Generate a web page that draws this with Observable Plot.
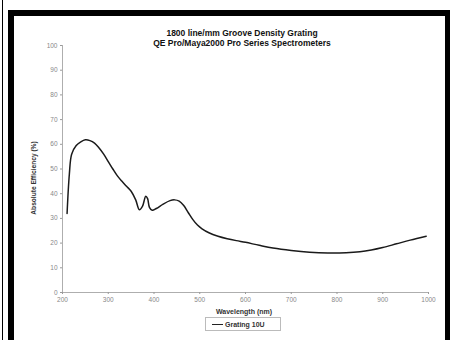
<!DOCTYPE html>
<html><head><meta charset="utf-8">
<script src="https://cdn.jsdelivr.net/npm/d3@7"></script>
<script src="https://cdn.jsdelivr.net/npm/@observablehq/plot@0.6"></script>
<style>
body{margin:0;background:#fff;}
#wrap{position:relative;width:457px;height:340px;overflow:hidden;font-family:"Liberation Sans",Arial,sans-serif;background:#fff;}
#wrap svg{position:absolute;left:0;top:0;}
.blk{position:absolute;background:#000;}
.t{position:absolute;transform:translateX(-50%);white-space:nowrap;font-weight:bold;color:#111;}
#ytitle{position:absolute;left:33px;top:178px;transform:translate(-50%,-50%) rotate(-90deg);white-space:nowrap;font-weight:bold;font-size:6.6px;color:#333;}
#legend{position:absolute;left:205px;top:317px;width:76px;height:14px;border:1px solid #bbb;box-sizing:border-box;font-size:7px;font-weight:bold;color:#333;display:flex;align-items:center;}
#legend span.sw{display:inline-block;width:11px;border-top:1.5px solid #222;margin:0 2px 0 6px;}
</style>
</head><body>
<div id="wrap">
  <div class="blk" style="left:2px;top:0;width:1px;height:340px;"></div>
  <div class="blk" style="left:8px;top:10px;width:6px;height:330px;"></div>
  <div class="blk" style="left:8px;top:10px;width:442px;height:6px;"></div>
  <div class="blk" style="left:445px;top:10px;width:5px;height:330px;"></div>
  <div class="t" style="left:242px;top:28px;font-size:8.5px;">1800 line/mm Groove Density Grating</div>
  <div class="t" style="left:242px;top:38px;font-size:8.5px;">QE Pro/Maya2000 Pro Series Spectrometers</div>
  <div id="ytitle">Absolute Efficiency (%)</div>
  <div class="t" style="left:244px;top:308px;font-size:7px;color:#333;">Wavelength (nm)</div>
  <div id="legend"><span class="sw"></span>Grating 10U</div>
</div>
<script>
const wavelength = [210,215,220,230,240,250,260,270,280,290,300,310,320,330,340,350,360,368,375,382,386,390,396,405,420,435,445,455,465,475,485,495,505,520,540,560,580,600,630,660,700,740,780,820,850,875,900,930,960,995];
const efficiency = [32,48,56,59.5,61,61.8,61.5,60.5,58.5,56,53,50,47.2,45,43,41,37.5,33.5,35,39,38,34.5,33.3,34,35.8,37.2,37.5,37,35.2,32.3,29.5,27.3,25.8,24.2,22.8,21.8,21,20.3,19.1,18,17,16.3,16,16.1,16.5,17.2,18.2,19.7,21.2,22.8];
const xTicks = [200,300,400,500,600,700,800,900,1000];
const yTicks = [0,10,20,30,40,50,60,70,80,90,100];
const seriesName = "Grating 10U";

const data = wavelength.map((w,i)=>({w, e: efficiency[i], s: seriesName}));

const chart = Plot.plot({
  width: 457,
  height: 340,
  marginLeft: 62,
  marginRight: 29,
  marginTop: 45,
  marginBottom: 48,
  style: {background: "transparent", fontFamily: "Liberation Sans, Arial, sans-serif", fontSize: "6.5px", color: "#888"},
  x: {domain: [200, 1000], ticks: xTicks},
  y: {domain: [0, 100], ticks: yTicks},
  marks: [
    Plot.ruleY([0], {stroke: "#999", strokeWidth: 0.8}),
    Plot.ruleX([200], {stroke: "#999", strokeWidth: 0.8}),
    Plot.axisX({ticks: xTicks, tickFormat: d => String(d), tickSize: 2, tickPadding: 3, stroke: "#999", fill: "#888", label: null}),
    Plot.axisY({ticks: yTicks, tickFormat: d => String(d), tickSize: 2, tickPadding: 3, stroke: "#999", fill: "#888", label: null}),
    Plot.line(data, {x: "w", y: "e", curve: "catmull-rom", stroke: "#1a1a1a", strokeWidth: 1.5})
  ]
});
document.getElementById("wrap").prepend(chart);
</script>
</body></html>
